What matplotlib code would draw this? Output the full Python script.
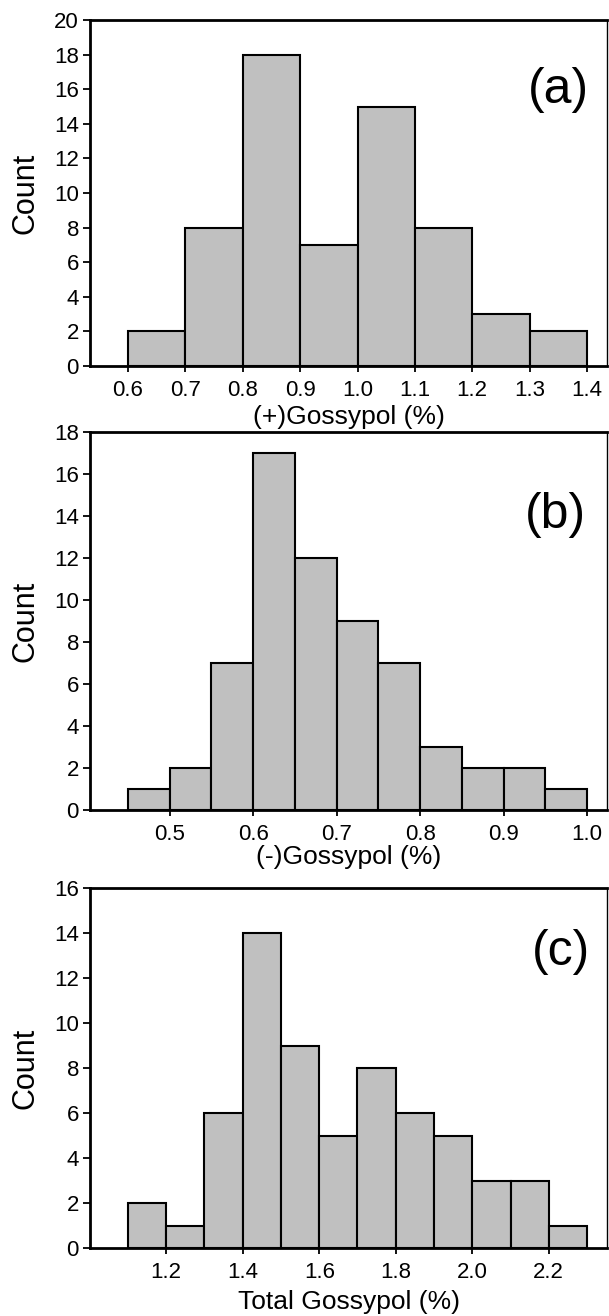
import matplotlib
matplotlib.use('Agg')
from matplotlib import pyplot as plt

plt.rcParams['font.family'] = ['Liberation Sans', 'DejaVu Sans']

# (a) (+)Gossypol
EDGES_A = [0.6, 0.7, 0.8, 0.9, 1.0, 1.1, 1.2, 1.3, 1.4]
COUNTS_A = [2, 8, 18, 7, 15, 8, 3, 2]
XTICKS_A = [0.6, 0.7, 0.8, 0.9, 1.0, 1.1, 1.2, 1.3, 1.4]
YTICKS_A = [0, 2, 4, 6, 8, 10, 12, 14, 16, 18, 20]

# (b) (-)Gossypol
EDGES_B = [0.45, 0.50, 0.55, 0.60, 0.65, 0.70, 0.75, 0.80, 0.85, 0.90, 0.95, 1.00]
COUNTS_B = [1, 2, 7, 17, 12, 9, 7, 3, 2, 2, 1]
XTICKS_B = [0.5, 0.6, 0.7, 0.8, 0.9, 1.0]
YTICKS_B = [0, 2, 4, 6, 8, 10, 12, 14, 16, 18]

# (c) Total Gossypol
EDGES_C = [1.1, 1.2, 1.3, 1.4, 1.5, 1.6, 1.7, 1.8, 1.9, 2.0, 2.1, 2.2, 2.3]
COUNTS_C = [2, 1, 6, 14, 9, 5, 8, 6, 5, 3, 3, 1]
XTICKS_C = [1.2, 1.4, 1.6, 1.8, 2.0, 2.2]
YTICKS_C = [0, 2, 4, 6, 8, 10, 12, 14, 16]

PANELS = [
    (EDGES_A, COUNTS_A, XTICKS_A, YTICKS_A, '(+)Gossypol (%)', '(a)'),
    (EDGES_B, COUNTS_B, XTICKS_B, YTICKS_B, '(-)Gossypol (%)', '(b)'),
    (EDGES_C, COUNTS_C, XTICKS_C, YTICKS_C, 'Total Gossypol (%)', '(c)'),
]

# axes rectangles in figure fractions (left, bottom, width, height)
W, H = 609, 1316
RECTS = [
    (90 / W, 1 - 366 / H, 517 / W, 346 / H),
    (90 / W, 1 - 810 / H, 517 / W, 378 / H),
    (90 / W, 1 - 1248 / H, 517 / W, 360 / H),
]
LABEL_PADS = [3, 0, 5]
TAG_POS = [(0.907, 0.798), (0.901, 0.780), (0.911, 0.822)]

fig = plt.figure(figsize=(W / 100, H / 100), dpi=100)

for (edges, counts, xticks, yticks, xlabel, tag), rect, lpad, tpos in zip(
        PANELS, RECTS, LABEL_PADS, TAG_POS):
    ax = fig.add_axes(rect)
    widths = [b - a for a, b in zip(edges[:-1], edges[1:])]
    ax.bar(edges[:-1], counts, width=widths, align='edge',
           color='#c0c0c0', edgecolor='black', linewidth=1.5, zorder=2)
    lo, hi = edges[0], edges[-1]
    span = hi - lo
    ax.set_xlim(lo - span * 38 / 459, hi + span * 20 / 459)
    ax.set_ylim(yticks[0], yticks[-1])
    ax.set_xticks(xticks)
    ax.set_xticklabels([f'{t:.1f}' for t in xticks])
    ax.set_yticks(yticks)
    ax.tick_params(axis='both', labelsize=16, direction='out', width=1.3, color='black')
    ax.tick_params(axis='y', length=5, pad=3)
    ax.tick_params(axis='x', length=4, pad=6)
    for side in ('left', 'bottom', 'top'):
        ax.spines[side].set_linewidth(2.0)
    ax.spines['right'].set_linewidth(1.0)
    ax.set_ylabel('Count', fontsize=22, va='center')
    ax.yaxis.set_label_coords(-65 / 517, 0.5)
    ax.set_xlabel(xlabel, fontsize=19, labelpad=lpad)
    ax.text(tpos[0], tpos[1], tag, transform=ax.transAxes, fontsize=36,
            ha='center', va='center')

fig.savefig('out.png', dpi=100)
